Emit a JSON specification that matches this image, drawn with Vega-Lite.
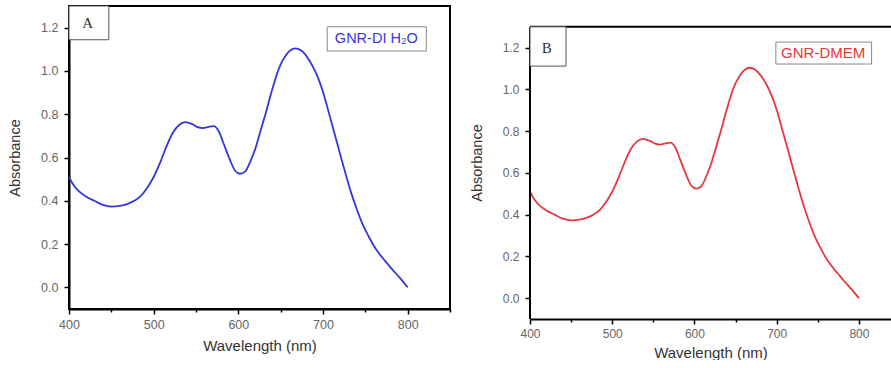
{
  "$schema": "https://vega.github.io/schema/vega-lite/v6.json",
  "background": "white",
  "padding": {"left": 6, "top": 4, "right": 0, "bottom": 0},
  "spacing": 17,
  "datasets": {
    "spectrum": [
      {"wavelength": 400, "absorbance": 0.51},
      {"wavelength": 405, "absorbance": 0.475},
      {"wavelength": 410, "absorbance": 0.45},
      {"wavelength": 420, "absorbance": 0.42},
      {"wavelength": 430, "absorbance": 0.40},
      {"wavelength": 440, "absorbance": 0.381},
      {"wavelength": 450, "absorbance": 0.373},
      {"wavelength": 460, "absorbance": 0.376},
      {"wavelength": 470, "absorbance": 0.387},
      {"wavelength": 477, "absorbance": 0.40},
      {"wavelength": 485, "absorbance": 0.423},
      {"wavelength": 492, "absorbance": 0.458},
      {"wavelength": 500, "absorbance": 0.51},
      {"wavelength": 508, "absorbance": 0.58},
      {"wavelength": 515, "absorbance": 0.65},
      {"wavelength": 522, "absorbance": 0.71},
      {"wavelength": 530, "absorbance": 0.75},
      {"wavelength": 537, "absorbance": 0.763},
      {"wavelength": 545, "absorbance": 0.755},
      {"wavelength": 552, "absorbance": 0.74},
      {"wavelength": 558, "absorbance": 0.736},
      {"wavelength": 565, "absorbance": 0.742},
      {"wavelength": 571, "absorbance": 0.745},
      {"wavelength": 577, "absorbance": 0.72},
      {"wavelength": 583, "absorbance": 0.66},
      {"wavelength": 590, "absorbance": 0.59},
      {"wavelength": 596, "absorbance": 0.54},
      {"wavelength": 602, "absorbance": 0.525},
      {"wavelength": 608, "absorbance": 0.535},
      {"wavelength": 614, "absorbance": 0.58},
      {"wavelength": 620, "absorbance": 0.64},
      {"wavelength": 626, "absorbance": 0.72},
      {"wavelength": 632, "absorbance": 0.80},
      {"wavelength": 639, "absorbance": 0.90},
      {"wavelength": 646, "absorbance": 0.99},
      {"wavelength": 650, "absorbance": 1.03},
      {"wavelength": 655, "absorbance": 1.065},
      {"wavelength": 660, "absorbance": 1.09},
      {"wavelength": 667, "absorbance": 1.104},
      {"wavelength": 674, "absorbance": 1.095},
      {"wavelength": 681, "absorbance": 1.065},
      {"wavelength": 688, "absorbance": 1.02},
      {"wavelength": 695, "absorbance": 0.96},
      {"wavelength": 701, "absorbance": 0.89},
      {"wavelength": 707, "absorbance": 0.805},
      {"wavelength": 714, "absorbance": 0.705},
      {"wavelength": 721, "absorbance": 0.605},
      {"wavelength": 727, "absorbance": 0.52},
      {"wavelength": 733, "absorbance": 0.44},
      {"wavelength": 740, "absorbance": 0.36},
      {"wavelength": 747, "absorbance": 0.29},
      {"wavelength": 754, "absorbance": 0.235},
      {"wavelength": 762, "absorbance": 0.18},
      {"wavelength": 770, "absorbance": 0.138},
      {"wavelength": 776, "absorbance": 0.11},
      {"wavelength": 782, "absorbance": 0.082},
      {"wavelength": 790, "absorbance": 0.047},
      {"wavelength": 800, "absorbance": 0.0}
    ]
  },
  "config": {
    "font": "Liberation Sans",
    "axis": {
      "grid": false,
      "domainColor": "black",
      "domainWidth": 2,
      "tickColor": "black",
      "tickWidth": 1.5,
      "labelColor": "#666666",
      "labelFontSize": 12.5,
      "labelFont": "Liberation Sans",
      "titleFont": "Liberation Sans",
      "titleColor": "#333333",
      "titleFontWeight": "normal",
      "labelOverlap": false,
      "labelFlush": false
    }
  },
  "hconcat": [
    {
      "width": 381,
      "height": 303,
      "view": {"stroke": "black", "strokeWidth": 2},
      "layer": [
        {
          "data": {"name": "spectrum"},
          "mark": {"type": "line", "color": "#3636dc", "strokeWidth": 1.8, "interpolate": "monotone"},
          "encoding": {
            "x": {
              "field": "wavelength", "type": "quantitative",
              "scale": {"domain": [400, 850], "nice": false, "zero": false},
              "axis": {
                "title": "Wavelength (nm)",
                "values": [400, 450, 500, 550, 600, 650, 700, 750, 800, 850],
                "labelExpr": "datum.value % 100 == 0 && datum.value <= 800 ? datum.label : ''",
                "tickSize": {"condition": {"test": "datum.value % 100 == 0", "value": 5}, "value": 3},
                "labelPadding": 4,
                "titleFontSize": 15,
                "titlePadding": 8
              }
            },
            "y": {
              "field": "absorbance", "type": "quantitative",
              "scale": {"domain": [-0.1, 1.3], "nice": false, "zero": false},
              "axis": {
                "title": "Absorbance",
                "values": [0, 0.1, 0.2, 0.3, 0.4, 0.5, 0.6, 0.7, 0.8, 0.9, 1.0, 1.1, 1.2],
                "labelExpr": "round(datum.value * 10) % 2 == 0 ? format(datum.value, '.1f') : ''",
                "tickSize": {"condition": {"test": "round(datum.value * 10) % 2 == 0", "value": 5}, "value": 3},
                "labelPadding": 6,
                "titleFontSize": 14.5,
                "titlePadding": 18
              }
            }
          }
        },
        {
          "data": {"values": [{}]},
          "mark": {"type": "rect", "fill": "white", "stroke": "#555555", "strokeWidth": 1},
          "encoding": {
            "x": {"datum": 400},
            "x2": {"datum": 447},
            "y": {"datum": 1.3},
            "y2": {"datum": 1.144}
          }
        },
        {
          "data": {"values": [{}]},
          "mark": {"type": "text", "font": "Liberation Serif", "fontSize": 15, "color": "#333333"},
          "encoding": {
            "x": {"datum": 422},
            "y": {"datum": 1.22},
            "text": {"value": "A"}
          }
        },
        {
          "data": {"values": [{}]},
          "mark": {"type": "rect", "fill": "white", "stroke": "#888888", "strokeWidth": 1},
          "encoding": {
            "x": {"datum": 705},
            "x2": {"datum": 822},
            "y": {"datum": 1.204},
            "y2": {"datum": 1.092}
          }
        },
        {
          "data": {"values": [{}]},
          "mark": {"type": "text", "fontSize": 14.5, "color": "#3636dc"},
          "encoding": {
            "x": {"datum": 763},
            "y": {"datum": 1.147},
            "text": {"value": "GNR-DI H₂O"}
          }
        }
      ]
    },
    {
      "width": 361,
      "height": 313,
      "view": {"stroke": null},
      "layer": [
        {
          "data": {"name": "spectrum"},
          "mark": {"type": "line", "color": "#e8383d", "strokeWidth": 1.8, "interpolate": "monotone"},
          "encoding": {
            "x": {
              "field": "wavelength", "type": "quantitative",
              "scale": {"domain": [400, 839], "nice": false, "zero": false},
              "axis": {
                "title": "Wavelength (nm)",
                "values": [400, 450, 500, 550, 600, 650, 700, 750, 800],
                "labelExpr": "datum.value % 100 == 0 ? datum.label : ''",
                "tickSize": {"condition": {"test": "datum.value % 100 == 0", "value": 5}, "value": 3},
                "labelPadding": 4,
                "labelFontSize": 12,
                "titleFontSize": 15,
                "titlePadding": 6
              }
            },
            "y": {
              "field": "absorbance", "type": "quantitative",
              "scale": {"domain": [-0.1, 1.4], "nice": false, "zero": false},
              "axis": {
                "title": "Absorbance",
                "domain": false,
                "values": [0, 0.1, 0.2, 0.3, 0.4, 0.5, 0.6, 0.7, 0.8, 0.9, 1.0, 1.1, 1.2],
                "labelExpr": "round(datum.value * 10) % 2 == 0 ? format(datum.value, '.1f') : ''",
                "tickSize": {"condition": {"test": "round(datum.value * 10) % 2 == 0", "value": 5}, "value": 3},
                "labelPadding": 6,
                "labelFontSize": 12,
                "titleFontSize": 14.5,
                "titlePadding": 18
              }
            }
          }
        },
        {
          "data": {"values": [{}]},
          "mark": {"type": "rule", "color": "black", "strokeWidth": 2},
          "encoding": {
            "y": {"datum": 1.3}
          }
        },
        {
          "data": {"values": [{}]},
          "mark": {"type": "rule", "color": "black", "strokeWidth": 2},
          "encoding": {
            "x": {"datum": 400},
            "y": {"datum": -0.1},
            "y2": {"datum": 1.3}
          }
        },
        {
          "data": {"values": [{}]},
          "mark": {"type": "rect", "fill": "white", "stroke": "#555555", "strokeWidth": 1},
          "encoding": {
            "x": {"datum": 400},
            "x2": {"datum": 443.8},
            "y": {"datum": 1.3},
            "y2": {"datum": 1.112}
          }
        },
        {
          "data": {"values": [{}]},
          "mark": {"type": "text", "font": "Liberation Serif", "fontSize": 15, "color": "#333333"},
          "encoding": {
            "x": {"datum": 420.5},
            "y": {"datum": 1.2},
            "text": {"value": "B"}
          }
        },
        {
          "data": {"values": [{}]},
          "mark": {"type": "rect", "fill": "white", "stroke": "#888888", "strokeWidth": 1},
          "encoding": {
            "x": {"datum": 699},
            "x2": {"datum": 815.4},
            "y": {"datum": 1.227},
            "y2": {"datum": 1.122}
          }
        },
        {
          "data": {"values": [{}]},
          "mark": {"type": "text", "fontSize": 15, "color": "#e8383d"},
          "encoding": {
            "x": {"datum": 756.5},
            "y": {"datum": 1.174},
            "text": {"value": "GNR-DMEM"}
          }
        }
      ]
    }
  ]
}
